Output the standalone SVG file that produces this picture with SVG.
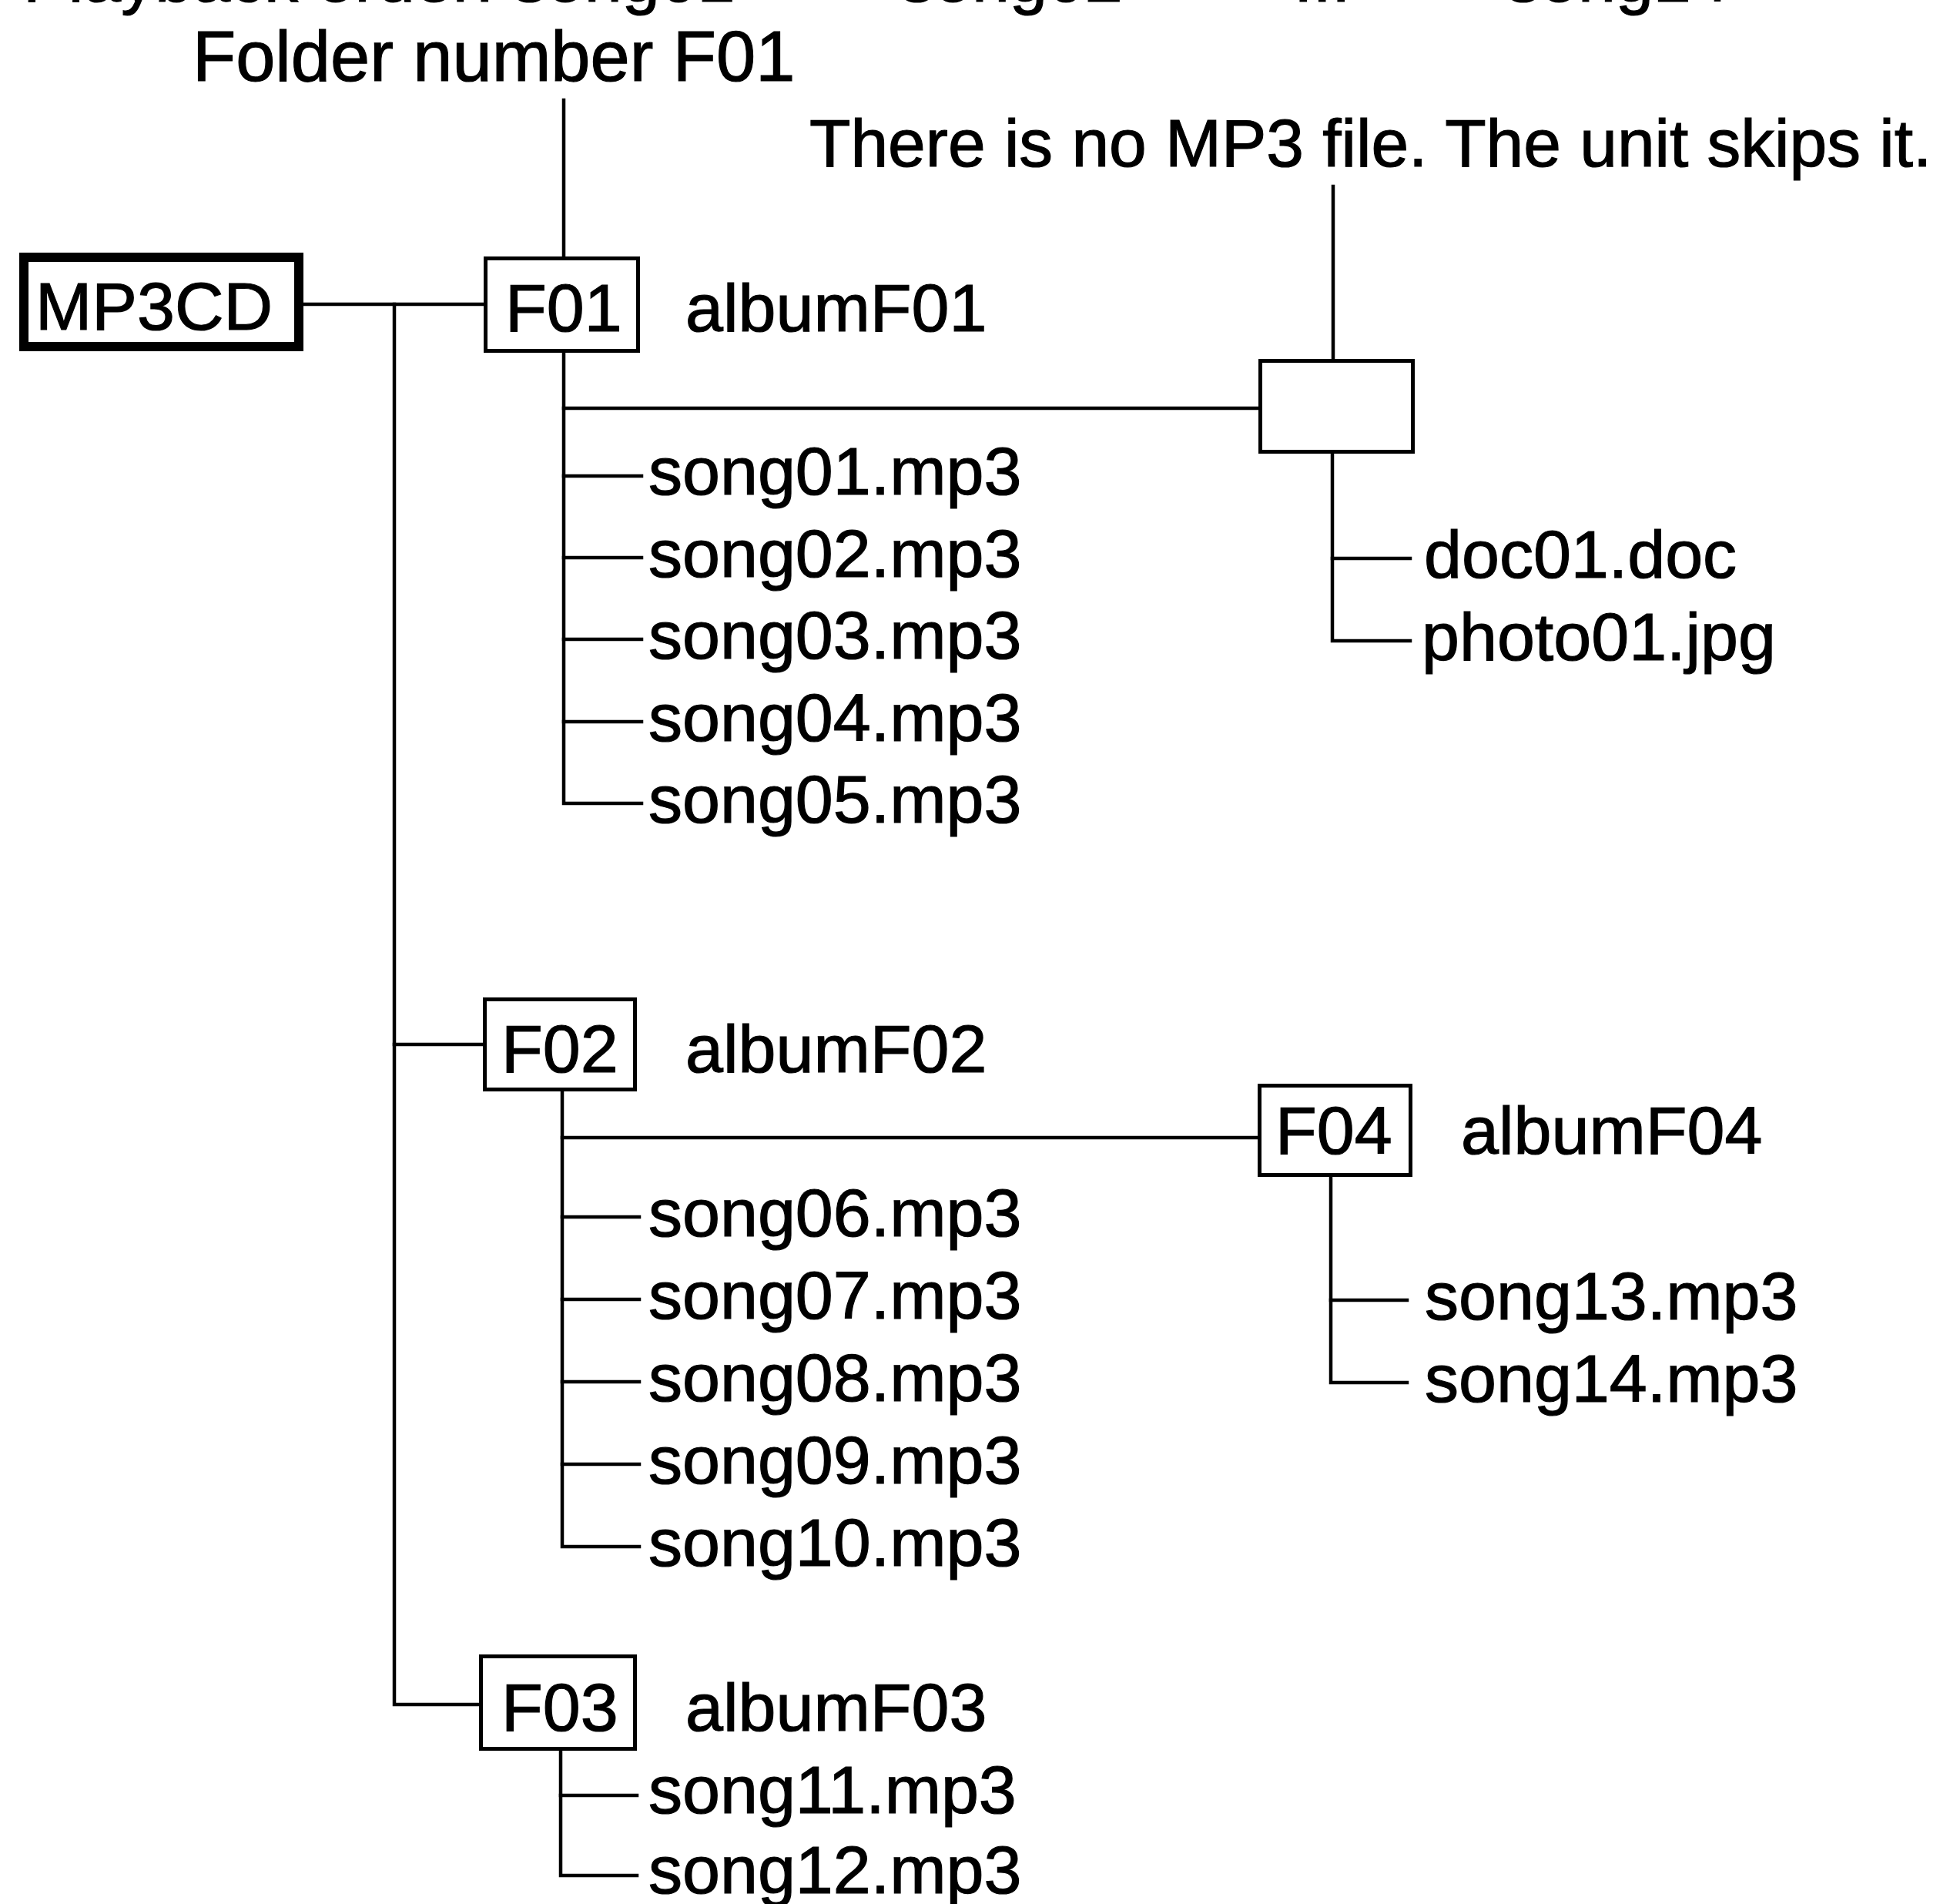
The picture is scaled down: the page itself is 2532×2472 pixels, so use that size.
<svg xmlns="http://www.w3.org/2000/svg" width="2532" height="2472" viewBox="0 0 2532 2472">
<style>
  text { font-family: "Liberation Sans", Arial, sans-serif; font-size: 88px; fill: #000; stroke: #000; stroke-width: 1.2; }
  .box { fill: #fff; stroke: #000; stroke-width: 5; }
  .root { fill: #fff; stroke: #000; stroke-width: 12; }
  .ln { fill: none; stroke: #000; stroke-width: 4.5; stroke-linecap: square; }
</style>
<rect x="0" y="0" width="2532" height="2472" fill="#fff"/>

<g id="header">
  <text x="30" y="2">Playback order: song01</text>
  <text x="1030" y="2">→</text>
  <text x="1169" y="2">song02</text>
  <text x="1520" y="2">→</text>
  <text x="1680" y="2">...</text>
  <text x="1820" y="2">→</text>
  <text x="1956" y="2">song14</text>
</g>

<g id="connectors">
  <path class="ln" d="M394 395 H628"/>
  <path class="ln" d="M512 395 V2213 H622"/>
  <path class="ln" d="M512 1356 H627"/>
  <path class="ln" d="M732 130 V333"/>
  <path class="ln" d="M732 458 V1043 H833"/>
  <path class="ln" d="M732 530 H1634"/>
  <path class="ln" d="M732 618 H833 M732 724 H833 M732 830 H833 M732 937 H833"/>
  <path class="ln" d="M1731 242 V467"/>
  <path class="ln" d="M1730 588 V832 H1831"/>
  <path class="ln" d="M1730 725 H1831"/>
  <path class="ln" d="M730 1417 V2008 H830"/>
  <path class="ln" d="M730 1477 H1633"/>
  <path class="ln" d="M730 1580 H830 M730 1687 H830 M730 1794 H830 M730 1901 H830"/>
  <path class="ln" d="M1728 1528 V1795 H1827"/>
  <path class="ln" d="M1728 1688 H1827"/>
  <path class="ln" d="M728 2273 V2435 H827"/>
  <path class="ln" d="M728 2331 H827"/>
</g>

<g id="note-folder-number">
  <text x="250" y="105" style="font-size:92px">Folder number F01</text>
</g>
<g id="note-skip">
  <text x="1051" y="216" style="font-size:87.5px">There is no MP3 file. The unit skips it.</text>
</g>

<g id="node-MP3CD">
  <rect class="root" x="31" y="334" width="357" height="116"/>
  <text x="46" y="428">MP3CD</text>
</g>

<g id="node-F01">
  <rect class="box" x="630.5" y="335.5" width="198" height="120"/>
  <text x="656" y="430">F01</text>
  <text x="890" y="430">albumF01</text>
</g>

<g id="node-empty-folder">
  <rect class="box" x="1636.5" y="468.5" width="198" height="118"/>
</g>

<g id="node-F02">
  <rect class="box" x="629.5" y="1297.5" width="195" height="117"/>
  <text x="651" y="1392">F02</text>
  <text x="890" y="1392">albumF02</text>
</g>

<g id="node-F04">
  <rect class="box" x="1635.5" y="1409.5" width="196" height="116"/>
  <text x="1656" y="1498">F04</text>
  <text x="1897" y="1498">albumF04</text>
</g>

<g id="node-F03">
  <rect class="box" x="624.5" y="2150.5" width="200" height="120"/>
  <text x="651" y="2247">F03</text>
  <text x="890" y="2247">albumF03</text>
</g>

<g id="file-song01"><text x="842" y="642">song01.mp3</text></g>
<g id="file-song02"><text x="842" y="749">song02.mp3</text></g>
<g id="file-song03"><text x="842" y="855">song03.mp3</text></g>
<g id="file-song04"><text x="842" y="962">song04.mp3</text></g>
<g id="file-song05"><text x="842" y="1068">song05.mp3</text></g>
<g id="file-doc01"><text x="1849" y="750">doc01.doc</text></g>
<g id="file-photo01"><text x="1846" y="857">photo01.jpg</text></g>
<g id="file-song06"><text x="842" y="1605">song06.mp3</text></g>
<g id="file-song07"><text x="842" y="1712">song07.mp3</text></g>
<g id="file-song08"><text x="842" y="1819">song08.mp3</text></g>
<g id="file-song09"><text x="842" y="1926">song09.mp3</text></g>
<g id="file-song10"><text x="842" y="2033">song10.mp3</text></g>
<g id="file-song13"><text x="1850" y="1713">song13.mp3</text></g>
<g id="file-song14"><text x="1850" y="1820">song14.mp3</text></g>
<g id="file-song11"><text x="842" y="2354">song11.mp3</text></g>
<g id="file-song12"><text x="842" y="2458">song12.mp3</text></g>
</svg>
